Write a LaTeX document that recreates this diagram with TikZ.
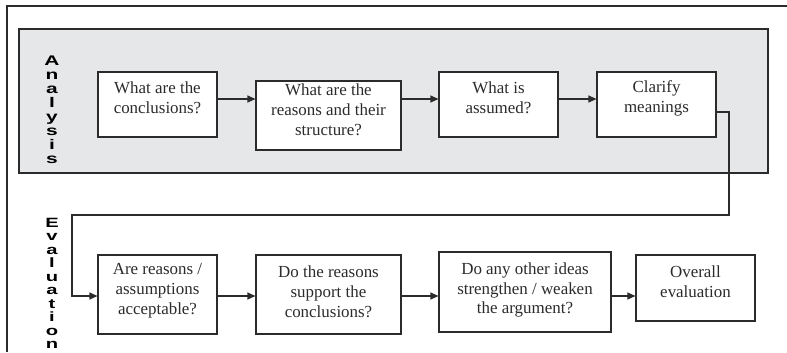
\documentclass[tikz,border=0pt]{standalone}
\usepackage{fontspec}
\setmainfont{Liberation Serif}
\newfontfamily\lettersfont{Liberation Sans}[FakeStretch=1.5]
\usetikzlibrary{arrows.meta}
\definecolor{panel}{HTML}{E6E7E9}
\definecolor{ink}{HTML}{2B2B2B}
\begin{document}
\begin{tikzpicture}[x=1bp,y=-1bp,
  box/.style={draw=ink, line width=1.1bp, fill=white, inner sep=0pt},
  arr/.style={draw=ink, line width=1.1bp, -{Triangle[length=8bp,width=7bp]}},
  txt/.style={font=\fontsize{17}{20}\selectfont, align=center, text=ink, inner sep=0pt},
  vletters/.style={font=\lettersfont\bfseries\fontsize{14}{14}\selectfont, align=center, text=black, inner sep=0pt, anchor=north}]
\useasboundingbox (0,0) rectangle (787,352);
% outer frame (cropped)
\coordinate (fTR) at (787,6);
\coordinate (fTL) at (7,6);
\coordinate (fBL) at (7,352);
\draw[ink, line width=1.2bp] (fTR) -- (fTL) -- (fBL);
% analysis panel
\node[draw=ink, fill=panel, line width=1.1bp, minimum width=749bp, minimum height=144bp, inner sep=0pt] (panel) at (393.5,101) {};
\node[vletters] (ana) at (52,56) {A\\n\\a\\l\\y\\s\\i\\s};
\node[vletters, font=\lettersfont\bfseries\fontsize{13.5}{13.5}\selectfont] (eva) at (52,218) {E\\v\\a\\l\\u\\a\\t\\i\\o\\n};
% row 1
\node[box, minimum width=119bp, minimum height=65bp, label={[txt, yshift=6.5bp]center:{What are the\\conclusions?}}] (b1) at (157.5,104.5) {};
\node[box, minimum width=145bp, minimum height=69bp, label={[txt, yshift=5.5bp]center:{What are the\\reasons and their\\structure?}}] (b2) at (328.5,115.5) {};
\node[box, minimum width=119bp, minimum height=65bp, label={[txt, yshift=6.5bp]center:{What is\\assumed?}}] (b3) at (498.5,104.5) {};
\node[box, minimum width=119bp, minimum height=65bp, label={[txt, yshift=6.5bp]center:{Clarify\\meanings}}] (b4) at (656.5,104.5) {};
% row 2
\node[box, minimum width=119bp, minimum height=79bp, label={[txt, yshift=3.5bp]center:{Are reasons /\\assumptions\\acceptable?}}] (b5) at (157.5,294.5) {};
\node[box, minimum width=145bp, minimum height=79bp, label={[txt, yshift=3bp]center:{Do the reasons\\support the\\conclusions?}}] (b6) at (328.5,294.5) {};
\node[box, minimum width=172bp, minimum height=80bp, label={[txt, yshift=2bp]center:{Do any other ideas\\strengthen / weaken\\the argument?}}] (b7) at (525,292) {};
\node[box, minimum width=119bp, minimum height=66bp, label={[txt, yshift=6.5bp]center:{Overall\\evaluation}}] (b8) at (695.5,288) {};
% connectors
\coordinate (r1) at (0,99);
\coordinate (r1b) at (0,112);
\coordinate (r2) at (0,296);
\coordinate (turnA) at (729,215);
\coordinate (turnB) at (72,296);
\draw[arr] (b1.east |- r1) -- (b2.west |- r1);
\draw[arr] (b2.east |- r1) -- (b3.west |- r1);
\draw[arr] (b3.east |- r1) -- (b4.west |- r1);
\draw[arr] (b4.east |- r1b) -| (turnA) -| (turnB) -- (b5.west |- r2);
\draw[arr] (b5.east |- r2) -- (b6.west |- r2);
\draw[arr] (b6.east |- r2) -- (b7.west |- r2);
\draw[arr] (b7.east |- r2) -- (b8.west |- r2);
\end{tikzpicture}
\end{document}
